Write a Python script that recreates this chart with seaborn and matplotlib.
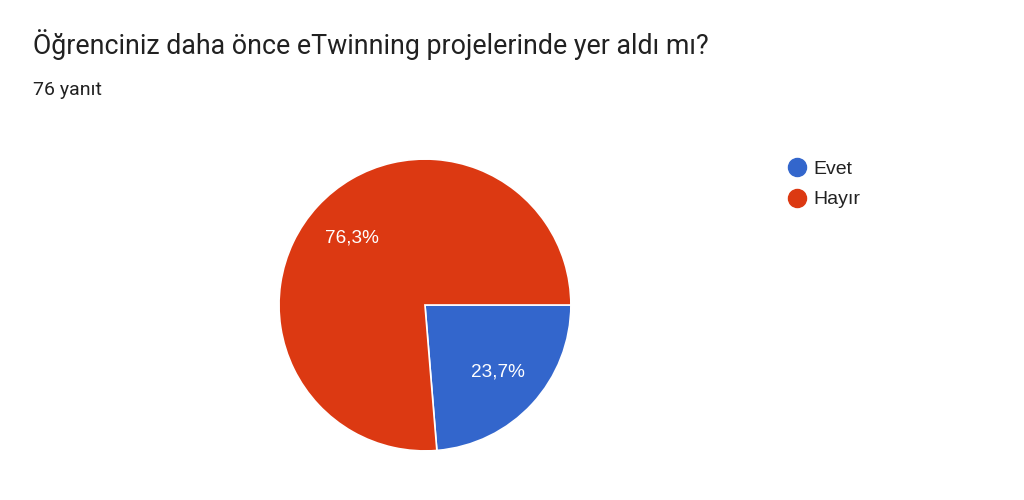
import matplotlib
matplotlib.use("Agg")
import matplotlib.pyplot as plt
from matplotlib.lines import Line2D
import seaborn as sns

# survey answers
title = "Öğrenciniz daha önce eTwinning projelerinde yer aldı mı?"
subtitle = "76 yanıt"
labels = ["Evet", "Hayır"]
shares = [23.7, 76.3]
colors = ["#3366cc", "#dc3912"]

sns.set_theme(style="white")
plt.rcParams['font.family'] = ['Roboto', 'DejaVu Sans']

fig = plt.figure(figsize=(10.24, 5), dpi=100)
fig.patch.set_facecolor("white")

ax = fig.add_axes([0.2725, 0.098, 0.285, 0.584])
wedges, texts, autotexts = ax.pie(
    shares, colors=colors, startangle=0, counterclock=False,
    autopct=lambda p: f"{p:.1f}%".replace(".", ","),
    pctdistance=0.68,
    wedgeprops={"edgecolor": "white", "linewidth": 1.2},
    textprops={"color": "white", "fontsize": 13.7,
               "family": ["Liberation Sans", "DejaVu Sans"]})
ax.set_xlim(-1, 1)
ax.set_ylim(-1, 1)
ax.set_aspect("equal")

fig.text(0.032, 0.91, title, fontsize=19.3, color="#212121", va="center")
fig.text(0.032, 0.82, subtitle, fontsize=14, color="#212121", va="center")

handles = [Line2D([0], [0], marker="o", linestyle="", markersize=13,
                  markerfacecolor=c, markeredgecolor=c) for c in colors]
fig.legend(handles, labels, loc="upper left", bbox_to_anchor=(0.750, 0.714),
           frameon=False, handletextpad=0.25, labelspacing=0.65,
           handlelength=1.2, labelcolor="#222222",
           prop={"family": ["Liberation Sans", "DejaVu Sans"], "size": 14})

fig.savefig("out.png", dpi=100, facecolor="white")
